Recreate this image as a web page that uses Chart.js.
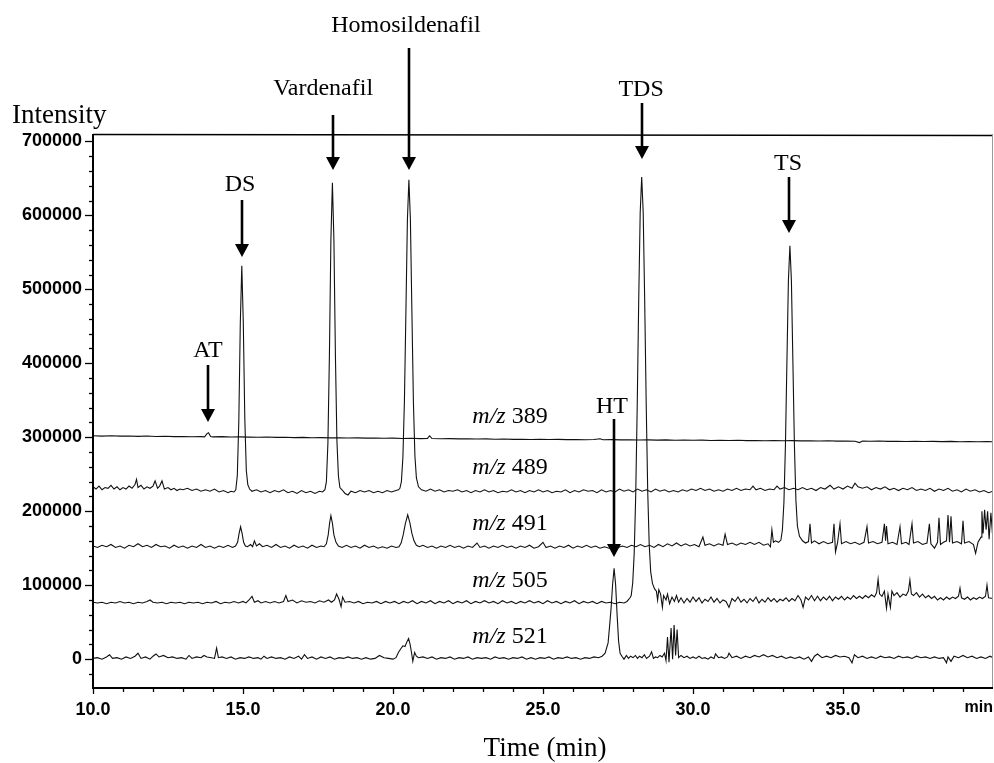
<!DOCTYPE html>
<html><head><meta charset="utf-8">
<script src="https://cdn.jsdelivr.net/npm/chart.js@4.4.1/dist/chart.umd.min.js"></script>
<style>html,body{margin:0;padding:0;background:#fff}canvas{display:block}</style>
</head><body>
<canvas id="c" width="994" height="763"></canvas>
<script>
// ---------------- data (time in min, intensity in thousands) ----------------
const xMajorTicks = [10, 15, 20, 25, 30, 35];
const xMinorTicks = [11,12,13,14,16,17,18,19,21,22,23,24,26,27,28,29,31,32,33,34,36,37,38,39];
const yMajorTicks = [0, 100000, 200000, 300000, 400000, 500000, 600000, 700000];
const yMinorTicks = [-20000,20000,40000,60000,80000,120000,140000,160000,180000,220000,240000,260000,280000,
  320000,340000,360000,380000,420000,440000,460000,480000,520000,540000,560000,580000,620000,640000,660000,680000];
const traceNames = ['389', '489', '491', '505', '521'];

const mz389 = [[10,302],[10.3,301.5],[10.6,302],[10.9,301.5],[11.2,301.8],[11.5,301.2],[11.8,301.6],[12.1,301],[12.4,301.3],[12.7,300.8],[13.0,301],[13.3,300.6],[13.6,300.9],[13.72,300.5],[13.8,305],[13.85,306],[13.92,301],[14.0,300.5],[14.3,300.8],[14.6,300.3],[14.9,300.5],[15.2,300.2],[15.5,300],[15.8,300.3],[16.1,299.8],[16.4,300],[16.7,299.5],[17.0,299.8],[17.3,299.4],[17.6,299.5],[17.9,299.1],[18.2,299.4],[18.5,299],[18.8,299.2],[19.1,298.8],[19.4,299],[19.7,298.6],[20.0,298.8],[20.3,298.4],[20.6,298.6],[20.9,298.2],[21.15,298.4],[21.22,302],[21.3,298.3],[21.6,298],[21.9,298.2],[22.2,297.8],[22.5,298],[22.8,297.6],[23.1,297.8],[23.4,297.4],[23.7,297.6],[24.0,297.2],[24.3,297.4],[24.6,297],[24.9,297.3],[25.2,297],[25.5,297.2],[25.8,296.8],[26.1,297],[26.4,296.7],[26.7,296.9],[26.9,298],[27.0,296.6],[27.3,296.8],[27.6,296.4],[27.9,296.7],[28.2,296.3],[28.5,296.5],[28.8,296.1],[29.1,296.4],[29.4,296],[29.7,296.3],[30.0,295.9],[30.3,296.1],[30.6,295.7],[30.9,296],[31.2,295.6],[31.5,295.9],[31.8,295.5],[32.1,295.7],[32.4,295.3],[32.7,295.6],[33.0,295.2],[33.3,295.5],[33.6,295.1],[33.9,295.3],[34.2,294.9],[34.5,295.2],[34.8,294.8],[35.1,295],[35.4,294.7],[35.55,292.8],[35.65,294.9],[35.9,294.6],[36.2,294.9],[36.5,294.5],[36.8,294.7],[37.1,294.3],[37.4,294.6],[37.7,294.2],[38.0,294.5],[38.3,294.1],[38.6,294.4],[38.9,294],[39.2,294.3],[39.5,293.9],[39.8,294.2],[40.0,294]];

const mz489 = [[10.0,233],[10.1,230],[10.2,234],[10.3,229],[10.4,232],[10.5,231],[10.6,235],[10.7,230],[10.8,233],[10.9,229],[11.0,232],[11.1,230],[11.2,234],[11.3,231],[11.4,236],[11.45,243],[11.5,232],[11.6,235],[11.7,230],[11.8,233],[11.9,231],[12.0,234],[12.07,241],[12.15,231],[12.22,234],[12.3,241],[12.38,230],[12.5,232],[12.6,229],[12.7,231],[12.8,228],[12.9,230],[13.0,229],[13.15,231],[13.3,228],[13.45,230],[13.6,227],[13.75,229],[13.9,227],[14.05,230],[14.2,226],[14.35,228],[14.5,225],[14.6,227],[14.7,226],
 [14.76,229],[14.81,248],[14.86,321],[14.91,454],[14.96,532],[15.01,454],[15.06,325],[15.11,255],[15.16,236],[15.22,230],
 [15.3,227],[15.45,229],[15.6,226],[15.75,228],[15.9,225],[16.05,228],[16.2,226],[16.35,229],[16.5,225],[16.65,227],[16.8,224],[16.95,228],[17.1,225],[17.25,227],[17.4,224],[17.55,227],[17.65,226],
 [17.73,229],[17.78,240],[17.83,292],[17.88,410],[17.93,567],[17.98,644],[18.03,567],[18.08,412],[18.13,296],[18.18,248],[18.23,232],[18.3,229],
 [18.4,224],[18.5,222],[18.6,227],[18.75,225],[18.9,228],[19.05,226],[19.2,228],[19.35,225],[19.5,227],[19.65,225],[19.8,228],[19.95,226],[20.1,228],
 [20.18,229],[20.23,231],[20.28,240],[20.33,273],[20.38,348],[20.43,469],[20.48,594],[20.53,648],[20.58,594],[20.63,469],[20.68,348],[20.73,275],[20.78,245],[20.85,233],[20.95,229],
 [21.1,227],[21.25,230],[21.4,227],[21.55,229],[21.7,226],[21.85,228],[22.0,227],[22.15,229],[22.3,226],[22.45,228],[22.6,225],[22.75,228],[22.9,226],[23.05,229],[23.2,226],[23.35,228],[23.5,225],[23.65,227],[23.8,226],[23.95,229],[24.1,226],[24.25,228],[24.4,225],[24.55,228],[24.7,226],[24.85,229],[25.0,226],[25.15,228],[25.3,225],[25.45,227],[25.6,226],[25.75,229],[25.9,225],[26.05,228],[26.2,226],[26.35,229],[26.5,227],[26.65,228],[26.8,225],[26.95,229],[27.1,226],[27.25,228],[27.4,226],[27.55,230],[27.7,227],[27.85,229],[28.0,226],[28.15,230],[28.3,227],[28.45,229],[28.6,226],[28.75,230],[28.9,227],[29.05,229],[29.2,226],[29.35,228],[29.5,226],[29.65,229],[29.8,227],[29.95,230],[30.1,228],[30.25,231],[30.4,228],[30.55,230],[30.7,227],[30.85,229],[31.0,227],[31.15,230],[31.3,228],[31.45,231],[31.6,228],[31.75,230],[31.9,229],[32.0,234],[32.1,229],[32.25,231],[32.4,228],[32.55,230],[32.7,229],[32.8,234],[32.9,230],[33.05,232],[33.2,229],[33.35,231],[33.5,229],[33.65,232],[33.8,229],[33.95,231],[34.1,228],[34.25,232],[34.4,230],[34.57,235],[34.7,230],[34.85,233],[35.0,230],[35.15,234],[35.3,231],[35.4,238],[35.5,233],[35.65,231],[35.8,233],[35.95,229],[36.1,232],[36.25,230],[36.4,233],[36.55,229],[36.7,231],[36.85,228],[37.0,231],[37.15,229],[37.3,232],[37.45,228],[37.6,230],[37.75,228],[37.9,231],[38.05,227],[38.2,230],[38.35,228],[38.5,231],[38.65,227],[38.8,229],[38.95,226],[39.1,230],[39.25,227],[39.4,229],[39.55,226],[39.7,228],[39.85,225],[40.0,227]];

const mz491 = [[10.0,153],[10.15,151],[10.3,154],[10.45,152],[10.6,155],[10.75,151],[10.9,153],[11.05,150],[11.2,154],[11.35,152],[11.5,156],[11.65,152],[11.8,154],[11.95,151],[12.1,155],[12.25,152],[12.4,153],[12.55,150],[12.7,154],[12.85,151],[13.0,153],[13.15,150],[13.3,153],[13.45,151],[13.6,155],[13.75,151],[13.9,153],[14.05,150],[14.2,153],[14.35,151],[14.5,154],[14.65,151],[14.75,153],
 [14.82,158],[14.87,170],[14.92,179],[14.97,170],[15.02,158],[15.08,153],
 [15.15,152],[15.25,155],[15.32,152],[15.38,160],[15.45,153],[15.55,156],[15.65,152],[15.8,154],[15.95,151],[16.1,155],[16.25,151],[16.4,153],[16.55,150],[16.7,154],[16.85,151],[17.0,153],[17.15,150],[17.3,154],[17.45,151],[17.6,153],[17.7,152],
 [17.78,156],[17.84,168],[17.89,185],[17.93,194],[17.98,184],[18.03,168],[18.1,158],[18.18,153],
 [18.3,151],[18.45,154],[18.6,151],[18.75,153],[18.9,150],[19.05,154],[19.2,151],[19.35,153],[19.5,150],[19.65,152],[19.8,150],[19.95,153],[20.1,151],
 [20.2,152],[20.27,157],[20.34,168],[20.41,183],[20.49,195],[20.56,185],[20.63,170],[20.7,160],[20.78,154],[20.88,152],
 [21.0,154],[21.15,151],[21.3,153],[21.45,150],[21.6,153],[21.75,151],[21.9,154],[22.05,151],[22.2,153],[22.35,150],[22.5,153],[22.65,151],[22.8,157],[22.9,151],[23.05,153],[23.2,150],[23.35,153],[23.5,151],[23.65,154],[23.8,151],[23.95,153],[24.1,150],[24.25,153],[24.4,151],[24.55,154],[24.7,150],[24.85,152],[25.0,158],[25.1,151],[25.25,153],[25.4,150],[25.55,153],[25.7,151],[25.85,154],[26.0,150],[26.15,153],[26.3,151],[26.45,154],[26.6,151],[26.75,153],[26.9,150],[27.05,152],[27.2,150],[27.35,152],[27.5,151],[27.65,153],[27.8,151],[27.95,154],[28.1,152],[28.25,155],[28.4,152],[28.55,154],[28.7,151],[28.85,155],[29.0,152],[29.15,156],[29.3,153],[29.45,157],[29.6,153],[29.75,156],[29.9,153],[30.05,155],[30.2,152],[30.33,165],[30.4,154],[30.55,156],[30.7,153],[30.85,156],[31.0,154],[31.07,169],[31.15,155],[31.3,157],[31.45,154],[31.6,157],[31.75,155],[31.9,158],[32.05,155],[32.2,158],[32.35,154],[32.5,156],[32.58,152],[32.63,175],[32.68,158],[32.75,160],[32.85,158],
 [32.93,161],[32.98,175],[33.03,211],[33.08,287],[33.13,401],[33.18,512],[33.23,559],[33.28,512],[33.33,401],[33.38,290],[33.43,215],[33.48,180],[33.55,166],[33.65,160],
 [33.75,157],[33.85,159],[33.9,183],[33.95,157],[34.05,160],[34.2,156],[34.35,159],[34.5,156],[34.65,158],[34.7,183],[34.75,145],[34.82,158],[34.9,183],[34.95,156],[35.1,159],[35.25,156],[35.4,158],[35.55,155],[35.7,158],[35.8,179],[35.85,157],[36.0,159],[36.15,156],[36.3,158],[36.38,183],[36.42,160],[36.45,180],[36.5,156],[36.65,158],[36.8,155],[36.9,179],[36.95,156],[37.1,158],[37.2,155],[37.3,183],[37.35,157],[37.5,159],[37.65,155],[37.8,157],[37.88,183],[37.93,156],[38.05,150],[38.15,158],[38.2,191],[38.25,155],[38.35,158],[38.45,160],[38.5,195],[38.55,158],[38.6,193],[38.65,157],[38.8,159],[38.95,156],[39.0,187],[39.05,157],[39.2,159],[39.35,155],[39.42,143],[39.5,158],[39.6,165],[39.63,200],[39.67,170],[39.72,202],[39.77,175],[39.82,200],[39.87,162],[39.93,198],[40.0,160]];

const mz505 = [[10.0,77],[10.15,76],[10.3,77],[10.45,75],[10.6,77],[10.75,76],[10.9,78],[11.05,76],[11.2,77],[11.35,75],[11.5,77],[11.65,76],[11.8,78],[11.9,80],[12.0,77],[12.15,76],[12.3,77],[12.45,75],[12.6,77],[12.75,76],[12.9,77],[13.05,75],[13.2,77],[13.35,76],[13.5,77],[13.65,75],[13.8,77],[13.95,76],[14.1,78],[14.25,75],[14.4,77],[14.55,76],[14.7,78],[14.85,76],[15.0,78],[15.1,76],[15.2,80],[15.3,85],[15.38,77],[15.5,79],[15.6,76],[15.75,78],[15.9,76],[16.05,78],[16.2,76],[16.35,78],[16.43,86],[16.5,78],[16.65,80],[16.8,76],[16.95,79],[17.1,77],[17.25,78],[17.4,76],[17.55,79],[17.7,77],[17.85,80],[17.95,77],[18.05,80],[18.12,88],[18.2,81],[18.27,71],[18.32,84],[18.4,77],[18.55,78],[18.7,76],[18.85,78],[19.0,75],[19.15,77],[19.3,76],[19.45,78],[19.6,75],[19.75,78],[19.9,76],[20.05,78],[20.2,75],[20.35,78],[20.5,76],[20.65,79],[20.8,75],[20.95,78],[21.1,76],[21.25,79],[21.4,75],[21.55,78],[21.7,76],[21.85,79],[22.0,75],[22.15,78],[22.3,76],[22.45,79],[22.6,75],[22.75,78],[22.9,76],[23.05,79],[23.2,76],[23.35,78],[23.5,75],[23.65,79],[23.8,76],[23.95,78],[24.1,75],[24.25,78],[24.4,76],[24.55,79],[24.7,76],[24.85,78],[25.0,75],[25.15,79],[25.3,76],[25.45,78],[25.6,75],[25.75,78],[25.9,76],[26.05,79],[26.2,75],[26.35,78],[26.5,76],[26.65,78],[26.8,75],[26.95,78],[27.1,76],[27.25,77],[27.4,75],[27.55,77],[27.7,76],[27.8,78],
 [27.9,83],[27.94,86],[27.99,103],[28.04,143],[28.09,221],[28.14,341],[28.19,484],[28.24,604],[28.29,652],[28.34,604],[28.39,484],[28.44,345],[28.49,228],[28.54,155],[28.59,118],[28.65,102],[28.72,95],
 [28.78,92],[28.82,80],[28.86,94],[28.92,88],[28.98,70],[29.02,86],[29.1,80],[29.15,88],[29.22,75],[29.3,84],[29.38,78],[29.45,86],[29.52,77],[29.6,83],[29.7,76],[29.8,82],[29.9,77],[30.0,84],[30.1,78],[30.2,83],[30.3,76],[30.4,81],[30.5,78],[30.6,84],[30.7,77],[30.8,82],[30.9,76],[31.0,80],[31.1,78],[31.2,70],[31.3,82],[31.4,78],[31.5,84],[31.6,77],[31.7,81],[31.8,76],[31.9,82],[32.0,78],[32.1,84],[32.2,76],[32.3,81],[32.4,77],[32.5,83],[32.6,78],[32.7,82],[32.8,77],[32.9,81],[33.0,79],[33.1,83],[33.2,78],[33.3,82],[33.4,79],[33.5,86],[33.6,80],[33.67,70],[33.75,84],[33.85,80],[33.95,86],[34.05,79],[34.15,85],[34.25,79],[34.35,84],[34.45,80],[34.55,85],[34.65,79],[34.75,84],[34.85,81],[34.95,85],[35.05,80],[35.15,84],[35.25,81],[35.35,86],[35.45,82],[35.55,85],[35.65,82],[35.75,86],[35.85,83],[35.95,87],[36.05,84],[36.12,90],[36.17,108],[36.22,88],[36.3,85],[36.38,92],[36.45,69],[36.5,88],[36.58,70],[36.63,92],[36.7,86],[36.8,90],[36.9,84],[37.0,88],[37.1,86],[37.18,92],[37.23,107],[37.28,88],[37.35,86],[37.45,90],[37.55,84],[37.65,88],[37.75,83],[37.85,86],[37.95,82],[38.05,85],[38.15,80],[38.25,83],[38.35,80],[38.45,84],[38.55,81],[38.65,84],[38.75,82],[38.85,85],[38.9,96],[38.95,83],[39.05,81],[39.15,84],[39.25,80],[39.35,83],[39.45,81],[39.55,84],[39.65,82],[39.75,85],[39.8,100],[39.85,83],[40.0,82]];

const mz521 = [[10.0,1],[10.15,2],[10.3,0],[10.45,3],[10.55,6],[10.65,1],[10.8,2],[10.95,0],[11.1,3],[11.25,1],[11.4,4],[11.5,8],[11.6,1],[11.75,3],[11.9,0],[12.0,4],[12.1,7],[12.2,3],[12.35,5],[12.5,2],[12.65,3],[12.8,1],[12.95,2],[13.1,0],[13.2,5],[13.3,1],[13.45,3],[13.6,2],[13.7,5],[13.8,3],[13.95,2],[14.05,1],[14.12,15],[14.18,2],[14.3,3],[14.45,1],[14.6,3],[14.75,0],[14.9,2],[15.05,1],[15.2,3],[15.35,1],[15.5,2],[15.6,0],[15.7,4],[15.8,1],[15.95,3],[16.1,1],[16.25,2],[16.4,0],[16.55,3],[16.7,1],[16.85,4],[16.95,0],[17.05,6],[17.15,1],[17.3,3],[17.45,0],[17.6,3],[17.75,1],[17.9,3],[18.05,0],[18.2,2],[18.35,1],[18.5,3],[18.65,1],[18.8,2],[18.95,0],[19.1,2],[19.25,0],[19.4,1],[19.55,5],[19.7,2],[19.85,1],[20.0,0],[20.1,2],[20.18,9],[20.26,14],[20.33,18],[20.4,17],[20.47,24],[20.52,28],[20.57,20],[20.62,8],[20.66,-3],[20.72,9],[20.78,4],[20.85,2],[21.0,3],[21.15,1],[21.3,3],[21.45,0],[21.6,2],[21.75,1],[21.9,3],[22.05,0],[22.2,2],[22.35,1],[22.5,3],[22.65,0],[22.8,2],[22.95,1],[23.1,2],[23.25,0],[23.4,3],[23.55,1],[23.7,2],[23.85,0],[24.0,2],[24.15,1],[24.3,3],[24.45,0],[24.6,2],[24.75,0],[24.9,2],[25.05,1],[25.2,3],[25.35,0],[25.5,2],[25.65,1],[25.8,3],[25.95,1],[26.1,2],[26.25,0],[26.4,2],[26.55,1],[26.7,3],[26.85,2],[26.97,4],
 [27.07,8],[27.17,22],[27.22,45],[27.27,69],[27.32,101],[27.37,123],[27.42,101],[27.47,60],[27.52,24],[27.57,8],[27.63,4],
 [27.7,0],[27.78,5],[27.85,1],[27.92,4],[28.0,2],[28.08,5],[28.15,1],[28.22,4],[28.3,2],[28.38,6],[28.45,1],[28.55,4],[28.62,10],[28.68,1],[28.75,3],[28.82,2],[28.9,5],[28.97,3],[29.05,8],[29.1,-2],[29.15,30],[29.2,-4],[29.27,42],[29.32,0],[29.37,46],[29.42,5],[29.47,40],[29.52,2],[29.6,5],[29.7,2],[29.8,4],[29.9,1],[30.0,3],[30.1,1],[30.2,4],[30.3,1],[30.4,2],[30.5,0],[30.6,3],[30.7,1],[30.75,7],[30.85,2],[30.95,3],[31.05,1],[31.15,3],[31.2,8],[31.3,2],[31.45,4],[31.6,1],[31.75,4],[31.9,2],[32.05,5],[32.2,3],[32.35,6],[32.5,3],[32.65,5],[32.8,2],[32.95,4],[33.1,1],[33.25,3],[33.4,1],[33.55,3],[33.7,0],[33.85,3],[33.95,-3],[34.05,4],[34.15,7],[34.3,2],[34.45,4],[34.6,2],[34.75,5],[34.9,3],[35.05,4],[35.2,2],[35.3,-5],[35.38,6],[35.5,2],[35.65,4],[35.8,1],[35.95,3],[36.1,1],[36.25,4],[36.4,2],[36.55,3],[36.7,1],[36.85,4],[37.0,2],[37.15,3],[37.3,1],[37.45,4],[37.6,2],[37.75,3],[37.9,1],[38.05,3],[38.2,1],[38.35,2],[38.45,-5],[38.5,3],[38.6,-3],[38.7,4],[38.85,2],[39.0,5],[39.15,2],[39.3,4],[39.45,1],[39.6,3],[39.75,1],[39.9,4],[40.0,2]];

const peakLabels = ['AT', 'DS', 'Vardenafil', 'Homosildenafil', 'TDS', 'TS', 'HT'];
const peakTimes = [13.83, 14.96, 17.99, 20.53, 28.30, 33.20, 27.37];

// ---------------- layout / geometry (not data) ----------------
const annoGeom = {
  textTime: [13.83, 14.90, 17.67, 20.43, 28.27, 33.17, 27.30],
  textY:    [408.5, 633, 762.7, 847.9, 761.4, 661.3, 332.8],
  arrowTop: [397.7, 620.8, 735.7, 826.3, 751.9, 651.9, 324.7],
  arrowTip: [320.7, 543.7, 661.3, 661.3, 676.2, 576.2, 138.1]
};
const traceLabelGeom = { time: 23.9, y: [319, 250, 175, 97, 22] };

const K = 1000;
const toPts = arr => arr.map(p => ({ x: p[0], y: p[1] * K }));
const series = [mz389, mz489, mz491, mz505, mz521];

const SERIF = '"Liberation Serif", "Times New Roman", serif';
const SANS = '"Liberation Sans", Arial, sans-serif';

const decor = {
  id: 'decor',
  afterDraw(chart) {
    const { ctx, chartArea: ca, scales: { x, y } } = chart;
    ctx.save();
    ctx.strokeStyle = '#000'; ctx.fillStyle = '#000';
    // frame
    ctx.lineWidth = 1.5;
    ctx.beginPath(); ctx.moveTo(ca.left, ca.top + 0.5); ctx.lineTo(ca.right, ca.top + 1.5); ctx.stroke();
    ctx.lineWidth = 1; ctx.strokeStyle = '#999';
    ctx.beginPath(); ctx.moveTo(ca.right - 0.5, ca.top); ctx.lineTo(ca.right - 0.5, ca.bottom); ctx.stroke();
    ctx.strokeStyle = '#000'; ctx.lineWidth = 2;
    ctx.beginPath(); ctx.moveTo(ca.left, ca.top); ctx.lineTo(ca.left, ca.bottom); ctx.lineTo(ca.right, ca.bottom); ctx.stroke();
    // y ticks
    ctx.lineWidth = 1.3;
    yMajorTicks.forEach(v => { const p = Math.round(y.getPixelForValue(v)) + 0.5; ctx.beginPath(); ctx.moveTo(ca.left - 8, p); ctx.lineTo(ca.left, p); ctx.stroke(); });
    yMinorTicks.forEach(v => { const p = Math.round(y.getPixelForValue(v)) + 0.5; ctx.beginPath(); ctx.moveTo(ca.left - 4, p); ctx.lineTo(ca.left, p); ctx.stroke(); });
    // x ticks
    xMajorTicks.forEach(v => { const p = Math.round(x.getPixelForValue(v)) + 0.5; ctx.beginPath(); ctx.moveTo(p, ca.bottom); ctx.lineTo(p, ca.bottom + 6); ctx.stroke(); });
    xMinorTicks.forEach(v => { const p = Math.round(x.getPixelForValue(v)) + 0.5; ctx.beginPath(); ctx.moveTo(p, ca.bottom); ctx.lineTo(p, ca.bottom + 4); ctx.stroke(); });
    // 'min' unit at axis end
    ctx.font = 'bold 16px ' + SANS; ctx.textAlign = 'right'; ctx.textBaseline = 'top';
    ctx.fillText('min', ca.right, ca.bottom + 12);
    // axis titles
    ctx.font = '27px ' + SERIF; ctx.textBaseline = 'alphabetic';
    ctx.textAlign = 'left'; ctx.fillText('Intensity', 12, 123);
    ctx.textAlign = 'center'; ctx.fillText('Time (min)', 545, 756);
    // trace labels
    ctx.textAlign = 'left';
    traceNames.forEach((n, i) => {
      const px = x.getPixelForValue(traceLabelGeom.time);
      const py = y.getPixelForValue(traceLabelGeom.y[i] * K);
      ctx.font = 'italic 24px ' + SERIF; const a = 'm/z'; const wa = ctx.measureText(a).width;
      ctx.font = '24px ' + SERIF; const b = ' ' + n; const wb = ctx.measureText(b).width;
      const x0 = px - (wa + wb) / 2;
      ctx.font = 'italic 24px ' + SERIF; ctx.fillText(a, x0, py);
      ctx.font = '24px ' + SERIF; ctx.fillText(b, x0 + wa, py);
    });
    // peak annotations
    ctx.font = '24px ' + SERIF; ctx.textAlign = 'center';
    peakLabels.forEach((lab, i) => {
      const tx = x.getPixelForValue(annoGeom.textTime[i]);
      const ty = y.getPixelForValue(annoGeom.textY[i] * K);
      ctx.fillText(lab, tx, ty);
      const ax = Math.round(x.getPixelForValue(peakTimes[i]));
      const y1 = y.getPixelForValue(annoGeom.arrowTop[i] * K);
      const y2 = y.getPixelForValue(annoGeom.arrowTip[i] * K);
      ctx.lineWidth = 2.6;
      ctx.beginPath(); ctx.moveTo(ax, y1); ctx.lineTo(ax, y2 - 11); ctx.stroke();
      ctx.beginPath(); ctx.moveTo(ax - 7, y2 - 13); ctx.lineTo(ax + 7, y2 - 13); ctx.lineTo(ax, y2); ctx.closePath(); ctx.fill();
    });
    ctx.restore();
  }
};

new Chart(document.getElementById('c'), {
  type: 'line',
  data: {
    datasets: series.map((s, i) => ({
      label: 'm/z ' + traceNames[i],
      data: toPts(s),
      borderColor: '#111',
      borderWidth: 1.1,
      pointRadius: 0,
      tension: 0,
      fill: false
    }))
  },
  options: {
    responsive: false,
    animation: false,
    devicePixelRatio: 1,
    parsing: false,
    normalized: true,
    layout: { padding: { top: 134, right: 1, left: 0, bottom: 0 } },
    plugins: { legend: { display: false }, tooltip: { enabled: false } },
    scales: {
      x: {
        type: 'linear', min: 10, max: 40,
        grid: { display: false, drawTicks: false }, border: { display: false },
        afterBuildTicks: s => { s.ticks = xMajorTicks.map(v => ({ value: v })); },
        afterFit: s => { s.height = 75; },
        ticks: { padding: 11, color: '#000', font: { family: SANS, weight: 'bold', size: 18 },
                 maxRotation: 0, autoSkip: false, callback: v => Number(v).toFixed(1) }
      },
      y: {
        type: 'linear', min: -39000, max: 710000,
        grid: { display: false, drawTicks: false }, border: { display: false },
        afterBuildTicks: s => { s.ticks = yMajorTicks.map(v => ({ value: v })); },
        afterFit: s => { s.width = 93; },
        ticks: { padding: 11, color: '#000', font: { family: SANS, weight: 'bold', size: 18 },
                 autoSkip: false, callback: v => String(v) }
      }
    }
  },
  plugins: [decor]
});
</script>
</body></html>
